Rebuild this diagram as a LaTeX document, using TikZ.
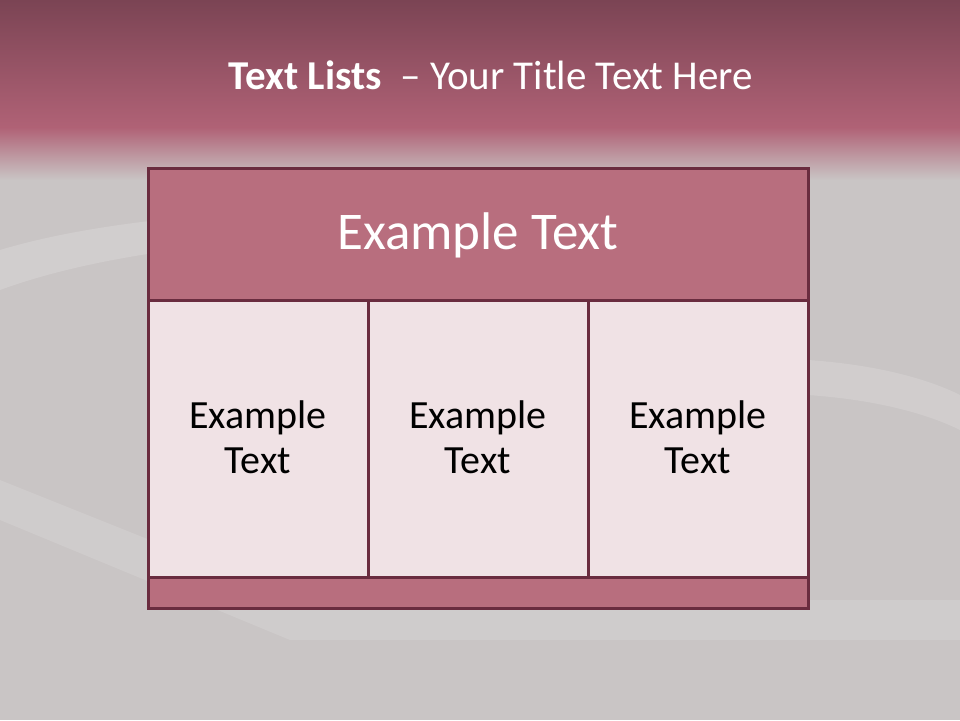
\documentclass[tikz,border=0pt]{standalone}
\usepackage{fontspec}
\setmainfont{Carlito}
\definecolor{bandtop}{HTML}{7B4454}
\definecolor{bandbot}{HTML}{B06276}
\definecolor{bggray}{HTML}{C9C5C5}
\definecolor{bglight}{HTML}{DCD9D9}
\definecolor{frame}{HTML}{6A2C3F}
\definecolor{headfill}{HTML}{B86E7E}
\definecolor{cellfill}{HTML}{F0E2E5}
\tikzset{
  panel/.style={draw=frame, line width=3pt},
  headbox/.style={panel, fill=headfill},
  cellbox/.style={panel, fill=cellfill},
  celltext/.style={font=\fontsize{40}{45}\selectfont, text=black, align=center},
  headfont/.style={font=\fontsize{53}{60}\selectfont},
}
\begin{document}
\begin{tikzpicture}[x=1pt,y=-1pt]
\useasboundingbox (0,0) rectangle (960,720);
% background
\fill[bggray] (0,0) rectangle (960,720);
\shade[top color=bandtop, bottom color=bandbot] (0,0) rectangle (960,128);
\shade[top color=bandbot, bottom color=bggray] (0,127.5) rectangle (960,180);
% soft streaks of the book
\fill[bglight, opacity=0.45] (0,250) .. controls (150,205) and (400,200) .. (700,215) -- (700,235) .. controls (400,225) and (150,235) .. (0,290) -- cycle;
\fill[white, opacity=0.15] (808,360) .. controls (880,365) and (930,380) .. (960,395) -- (960,430) .. controls (930,415) and (880,400) .. (808,395) -- cycle;
\fill[white, opacity=0.12] (0,480) -- (300,600) -- (960,600) -- (960,640) -- (290,640) -- (0,520) -- cycle;
% title
\node[text=white, font=\fontsize{41}{48}\selectfont] (title) at (491,75)
  {\textbf{Text Lists}\ \ – Your Title Text Here};
% table
\node[headbox, minimum width=660, minimum height=132, inner sep=0] (head) at (478,234) {};
\node[text=white, headfont] (headtext) at (478,235) {Example Text};
\node[cellbox, minimum width=220, minimum height=277, inner sep=0] (c1) at (258,438.5) {};
\node[cellbox, minimum width=220, minimum height=277, inner sep=0] (c2) at (478,438.5) {};
\node[cellbox, minimum width=220, minimum height=277, inner sep=0] (c3) at (698,438.5) {};
\node[celltext] (t1) at (258,437) {Example\\Text};
\node[celltext] (t2) at (478,437) {Example\\Text};
\node[celltext] (t3) at (698,437) {Example\\Text};
\node[headbox, minimum width=660, minimum height=31, inner sep=0] (foot) at (478,592.5) {};
\end{tikzpicture}
\end{document}
